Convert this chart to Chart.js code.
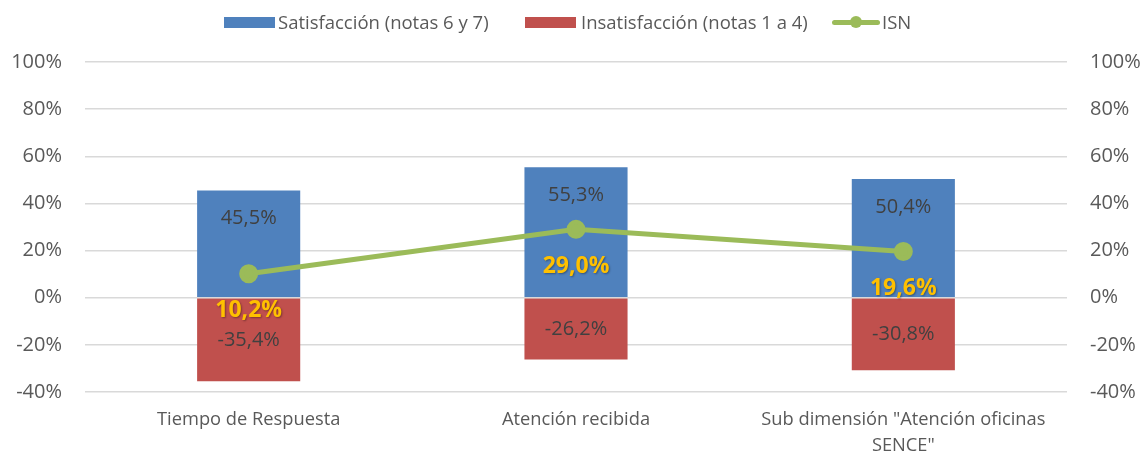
<!DOCTYPE html>
<html><head><meta charset="utf-8">
<script src="https://cdn.jsdelivr.net/npm/chart.js@4"></script>
<style>
html,body{margin:0;padding:0;background:#fff;overflow:hidden;}
#wrap{position:relative;width:1148px;height:453px;overflow:hidden;}
#legend{position:absolute;top:0;left:0;width:1148px;height:45px;font-family:"Open Sans",sans-serif;font-size:18.5px;color:#595959;}
#legend .sw{position:absolute;}
#legend .tx{position:absolute;top:9px;line-height:26px;white-space:nowrap;}
</style></head>
<body>
<div id="wrap">
<canvas id="c" width="1148" height="453"></canvas>
<div id="legend"></div>
</div>
<script>
const categories = ["Tiempo de Respuesta", "Atención recibida", ["Sub dimensión \"Atención oficinas", "SENCE\""]];
const satisfaccion = [45.5, 55.3, 50.4];
const insatisfaccion = [-35.4, -26.2, -30.8];
const isn = [10.2, 29.0, 19.6];
const seriesNames = ["Satisfacción (notas 6 y 7)", "Insatisfacción (notas 1 a 4)", "ISN"];
const yTicks = [-40, -20, 0, 20, 40, 60, 80, 100];
const colors = ["#4F81BD", "#C0504D", "#9BBB59"];

const fmt = v => v.toFixed(1).replace('.', ',') + '%';

// legend (HTML)
const lg = document.getElementById('legend');
lg.innerHTML =
  '<div class="sw" style="left:224px;top:17px;width:51px;height:11px;background:' + colors[0] + '"></div>' +
  '<div class="tx" style="left:278px">' + seriesNames[0] + '</div>' +
  '<div class="sw" style="left:525px;top:17px;width:51px;height:11px;background:' + colors[1] + '"></div>' +
  '<div class="tx" style="left:581px">' + seriesNames[1] + '</div>' +
  '<div class="sw" style="left:832px;top:20px;width:48px;height:5px;border-radius:3px;background:' + colors[2] + '"></div>' +
  '<div class="sw" style="left:850px;top:16px;width:12px;height:12px;border-radius:50%;background:' + colors[2] + '"></div>' +
  '<div class="tx" style="left:882px">' + seriesNames[2] + '</div>';

const labelPlugin = {
  id: 'vlabels',
  afterDatasetsDraw(chart) {
    const ctx = chart.ctx;
    ctx.save();
    ctx.textAlign = 'center';
    ctx.textBaseline = 'middle';
    ctx.font = '20px "Open Sans", sans-serif';
    ctx.fillStyle = '#404040';
    chart.getDatasetMeta(0).data.forEach((el, i) => {
      ctx.fillText(fmt(satisfaccion[i]), el.x, el.y + 28);
    });
    chart.getDatasetMeta(1).data.forEach((el, i) => {
      ctx.fillText(fmt(insatisfaccion[i]), el.x, (el.y + el.base) / 2);
    });
    ctx.font = 'bold 23px "Open Sans", sans-serif';
    chart.getDatasetMeta(2).data.forEach((el, i) => {
      ctx.shadowColor = 'rgba(0,0,0,0.35)';
      ctx.shadowBlur = 2; ctx.shadowOffsetX = 1; ctx.shadowOffsetY = 1;
      ctx.fillStyle = '#FFC000';
      ctx.fillText(fmt(isn[i]), el.x, el.y + 37);
    });
    ctx.restore();
  }
};

const yFont = {family: '"Open Sans", sans-serif', size: 20};
new Chart(document.getElementById('c'), {
  data: {
    labels: categories,
    datasets: [
      {type: 'bar', label: seriesNames[0], data: satisfaccion, backgroundColor: colors[0], yAxisID: 'y', order: 2,
       barPercentage: 0.63, categoryPercentage: 0.5},
      {type: 'bar', label: seriesNames[1], data: insatisfaccion, backgroundColor: colors[1], yAxisID: 'y', order: 2,
       barPercentage: 0.63, categoryPercentage: 0.5},
      {type: 'line', label: seriesNames[2], data: isn, borderColor: colors[2], backgroundColor: colors[2], borderWidth: 5,
       pointRadius: 7, pointHoverRadius: 7, tension: 0, yAxisID: 'y2', order: 1}
    ]
  },
  options: {
    responsive: false,
    animation: false,
    devicePixelRatio: 1,
    layout: {padding: {top: 62, left: 0, right: 0, bottom: 0}},
    plugins: {legend: {display: false}, tooltip: {enabled: false}},
    scales: {
      x: {stacked: true, grid: {display: false}, border: {display: false},
          afterFit: s => { s.height = 61; },
          ticks: {color: '#595959', font: {family: '"Open Sans", sans-serif', size: 18.3, lineHeight: 1.42}, maxRotation: 0, autoSkip: false, padding: 7}},
      y: {stacked: true, position: 'left', min: yTicks[0], max: yTicks[yTicks.length - 1],
          afterFit: s => { s.width = 85; },
          afterBuildTicks: s => { s.ticks = yTicks.map(v => ({value: v})); },
          ticks: {color: '#595959', font: yFont, padding: 23, callback: v => v + '%'},
          grid: {color: '#D9D9D9', lineWidth: 1.5, drawTicks: false}, border: {display: false}},
      y2: {position: 'right', min: yTicks[0], max: yTicks[yTicks.length - 1],
          afterFit: s => { s.width = 81; },
          afterBuildTicks: s => { s.ticks = yTicks.map(v => ({value: v})); },
          ticks: {color: '#595959', font: yFont, padding: 23, callback: v => v + '%'},
          grid: {display: false, drawTicks: false}, border: {display: false}}
    }
  },
  plugins: [labelPlugin]
});
</script>
</body></html>
